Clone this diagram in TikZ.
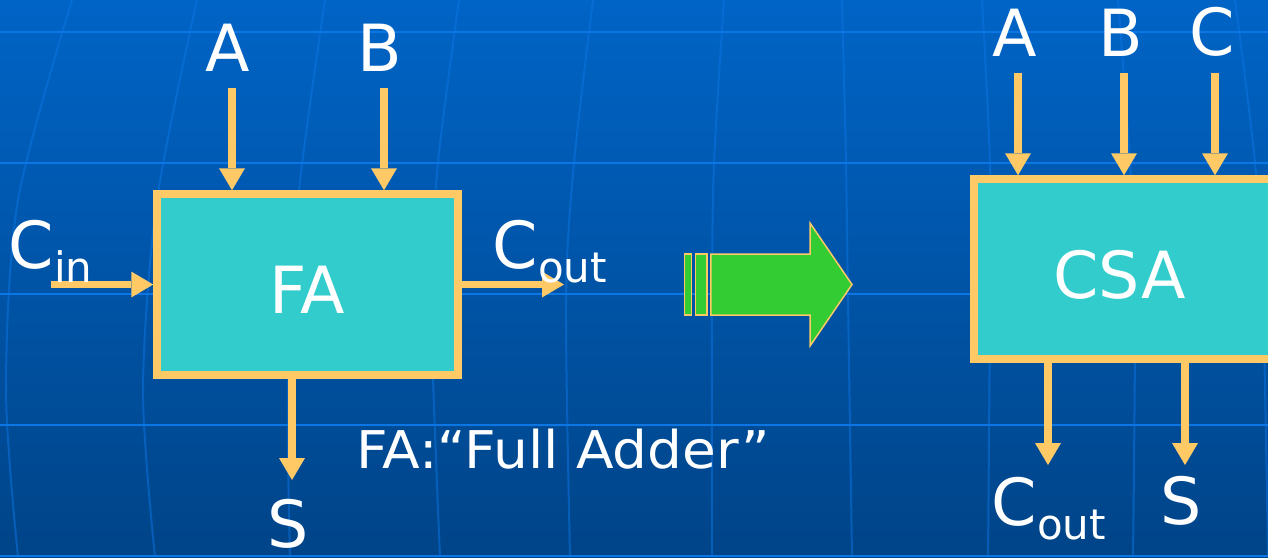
\documentclass[tikz,border=0pt]{standalone}
\usepackage{fontspec}
\setmainfont{DejaVu Sans}
\usetikzlibrary{arrows.meta}

\definecolor{bgtop}{RGB}{0,100,198}
\definecolor{bgbot}{RGB}{0,68,136}
\definecolor{gridln}{RGB}{12,118,228}
\definecolor{wire}{RGB}{255,201,102}
\definecolor{blockfill}{RGB}{51,204,204}
\definecolor{arrowgreen}{RGB}{51,204,51}

\newcommand{\subtxt}[1]{\raisebox{-14pt}{\fontsize{42}{50}\selectfont #1}}

\begin{document}
\begin{tikzpicture}[x=1pt,y=-1pt,
  block/.style={draw=wire, fill=blockfill, line width=7.5pt, inner sep=0pt},
  sig/.style={draw=wire, line width=7.5pt,
    -{Triangle[width=26pt,length=22pt,line width=0pt]}},
  big/.style={text=white, inner sep=0pt, font=\fontsize{65}{78}\selectfont},
  note/.style={text=white, inner sep=0pt, font=\fontsize{52}{62}\selectfont},
  gridh/.style={draw=gridln, line width=2.5pt},
  gridv/.style={draw=gridln, line width=2pt, opacity=0.5},
  conv/.style={draw=wire, fill=arrowgreen, line width=1.5pt, line join=miter},
]
% background
\useasboundingbox (0,0) rectangle (1268,557);
\shade[top color=bgtop, bottom color=bgbot] (0,0) rectangle (1268,557);

% globe-like grid
\begin{scope}
\clip (0,0) rectangle (1268,557);
\foreach \yy in {32,163,294,425,556}
  \draw[gridh] (0,\yy) -- (1268,\yy);
\draw[gridv] plot[smooth] coordinates {(72,0) (18,200) (6,390) (18,557)};
\draw[gridv] plot[smooth] coordinates {(197,0) (157,200) (143,390) (155,557)};
\draw[gridv] plot[smooth] coordinates {(325,0) (298,200) (288,390) (290,557)};
\draw[gridv] plot[smooth] coordinates {(459,0) (438,163) (431,300) (440,557)};
\draw[gridv] plot[smooth] coordinates {(593,0) (574,163) (566,300) (570,557)};
\draw[gridv] plot[smooth] coordinates {(724,0) (714,163) (712,300) (712,557)};
\draw[gridv] plot[smooth] coordinates {(842,0) (846,163) (848,300) (852,557)};
\draw[gridv] plot[smooth] coordinates {(982,0) (990,163) (990,300) (988,557)};
\draw[gridv] plot[smooth] coordinates {(1118,0) (1130,163) (1135,300) (1133,557)};
\draw[gridv] plot[smooth] coordinates {(1235,0) (1255,163) (1263,300) (1268,557)};
\end{scope}

% full adder block
\node[block, minimum width=301pt, minimum height=181pt] (fa) at (307.5,284.5) {};
\coordinate (fa-a-src) at (232,88);
\coordinate (fa-b-src) at (384,88);
\coordinate (cin-src) at (51,284.5);
\coordinate (cout-dst) at (564,284.5);
\coordinate (fa-s-dst) at (292,480);
\draw[sig] (fa-a-src) -- (fa-a-src |- fa.north);
\draw[sig] (fa-b-src) -- (fa-b-src |- fa.north);
\draw[sig] (cin-src) -- (fa.west);
\draw[sig] (fa.east) -- (cout-dst);
\draw[sig] (fa-s-dst |- fa.south) -- (fa-s-dst);

\node[big, anchor=base] (fa-name) at (307,313) {FA};
\node[big, anchor=base] (fa-a-lbl) at (228,71) {A};
\node[big, anchor=base] (fa-b-lbl) at (380,71) {B};
\node[big, anchor=base west] (cin-lbl) at (8.5,268) {C\subtxt{in}};
\node[big, anchor=base west] (cout-lbl) at (492.5,268) {C\subtxt{out}};
\node[big, anchor=base] (fa-s-lbl) at (288,547) {S};
\node[note, anchor=base west] (fa-note) at (356,468)
  {\scalebox{1.057}[1]{FA:“Full Adder”}};

% conversion arrow
\draw[conv] (684.5,254) rectangle (691.4,315);
\draw[conv] (695.5,254) rectangle (706.8,315);
\draw[conv] (710.8,254) -- (810,254) -- (810,223) -- (852,284.5)
  -- (810,346) -- (810,315) -- (710.8,315) -- cycle;

% carry-save adder block
\begin{scope}
\clip (0,0) rectangle (1268,557);
\node[block, minimum width=330pt, minimum height=180pt] (csa) at (1139,269) {};
\end{scope}
\coordinate (csa-a-src) at (1018,73);
\coordinate (csa-b-src) at (1124,73);
\coordinate (csa-c-src) at (1215,73);
\coordinate (csa-cout-dst) at (1048,465);
\coordinate (csa-s-dst) at (1185,465);
\draw[sig] (csa-a-src) -- (csa-a-src |- csa.north);
\draw[sig] (csa-b-src) -- (csa-b-src |- csa.north);
\draw[sig] (csa-c-src) -- (csa-c-src |- csa.north);
\draw[sig] (csa-cout-dst |- csa.south) -- (csa-cout-dst);
\draw[sig] (csa-s-dst |- csa.south) -- (csa-s-dst);

\node[big, anchor=base] (csa-name) at (1119.5,298) {CSA};
\node[big, anchor=base] (csa-a-lbl) at (1015,56) {A};
\node[big, anchor=base] (csa-b-lbl) at (1121,56) {B};
\node[big, anchor=base] (csa-c-lbl) at (1212,55) {C};
\node[big, anchor=base west] (csa-cout-lbl) at (991.5,525) {C\subtxt{out}};
\node[big, anchor=base] (csa-s-lbl) at (1181,524) {S};
\end{tikzpicture}
\end{document}
